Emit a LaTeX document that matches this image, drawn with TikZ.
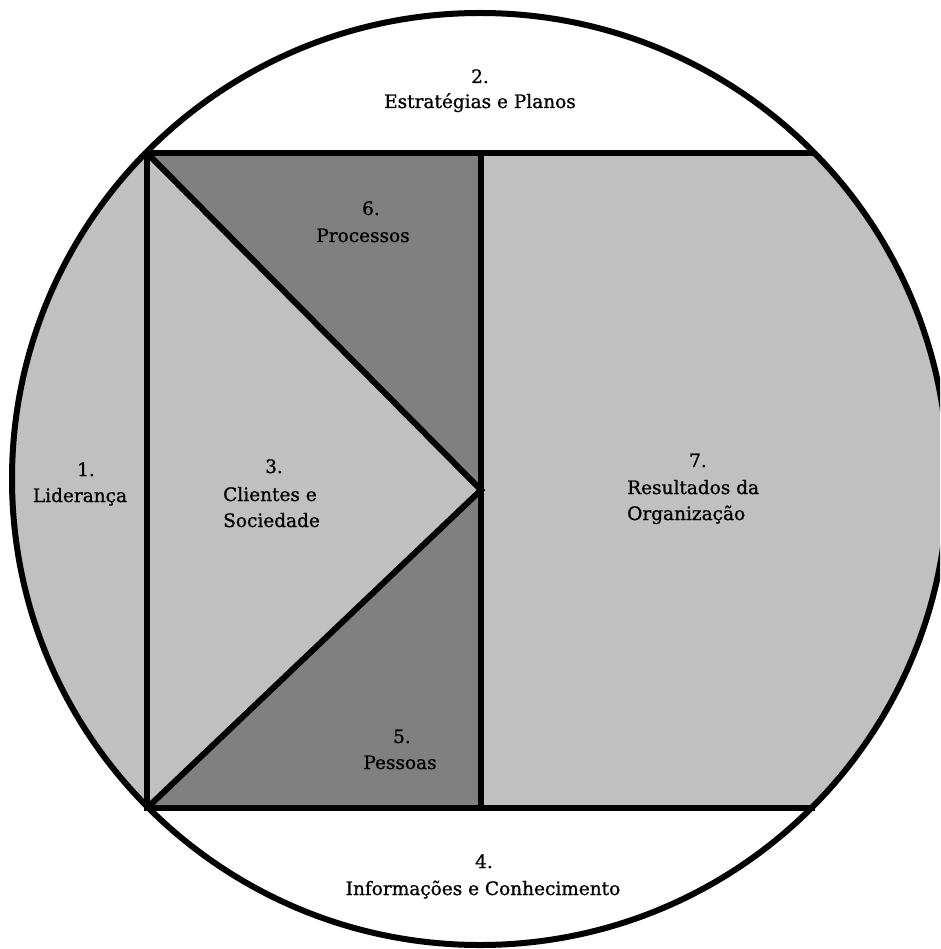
\documentclass[tikz,border=0pt]{standalone}
\usepackage{fontspec}
\setmainfont{DejaVu Serif}
\newfontfamily\lblfont[FakeBold=1.0]{DejaVu Serif}
\begin{document}
\begin{tikzpicture}[x=1pt,y=-1pt,
  lbl/.style={font=\lblfont\fontsize{18.5}{27}\selectfont, inner sep=0pt, anchor=base},
  lblw/.style={lbl, anchor=base west},
  edge/.style={line width=6pt, line join=miter, line cap=rect}]
\definecolor{lg}{HTML}{C0C0C0}
\definecolor{dg}{HTML}{808080}
\useasboundingbox (0,0) rectangle (940,949);
\clip (0,0) rectangle (940,949);
\fill[white] (0,0) rectangle (940,949);
\coordinate (O) at (480,479);
\coordinate (TL) at (147,153);
\coordinate (TM) at (481,153);
\coordinate (TR) at (813,153);
\coordinate (BL) at (147,808);
\coordinate (BM) at (481,808);
\coordinate (BR) at (812,808);
\coordinate (A) at (481,490);
\begin{scope}
  \clip (0,153) rectangle (940,808);
  \fill[lg] (O) ellipse [x radius=468pt, y radius=466pt];
\end{scope}
\fill[dg] (TL) -- (TM) -- (A) -- cycle;
\fill[dg] (BL) -- (BM) -- (A) -- cycle;
\draw[edge] (TL) -- (TR);
\draw[edge] (BL) -- (BR);
\draw[edge] (TL) -- (BL);
\draw[edge] (TM) -- (BM);
\draw[line width=6pt, line join=miter] (TL) -- (A) -- (BL);
\draw[line width=6pt] (O) ellipse [x radius=468pt, y radius=466pt];
% labels
\node[lbl] (n1) at (86,476) {1.};
\node[lbl] (t1) at (80,502) {Liderança};
\node[lbl] (n2) at (480,83) {2.};
\node[lbl] (t2) at (480,108) {Estratégias e Planos};
\node[lbl] (n3) at (274,473) {3.};
\node[lblw] (t3a) at (223,501) {Clientes e};
\node[lblw] (t3b) at (223,527) {Sociedade};
\node[lbl] (n4) at (484,868) {4.};
\node[lbl] (t4) at (483,895) {Informações e Conhecimento};
\node[lbl] (n5) at (402,743) {5.};
\node[lbl] (t5) at (400,769) {Pessoas};
\node[lbl] (n6) at (371,215) {6.};
\node[lbl] (t6) at (363,242) {Processos};
\node[lbl] (n7) at (698,467) {7.};
\node[lblw] (t7a) at (627,494) {Resultados da};
\node[lblw] (t7b) at (627,520) {Organização};
\end{tikzpicture}
\end{document}
